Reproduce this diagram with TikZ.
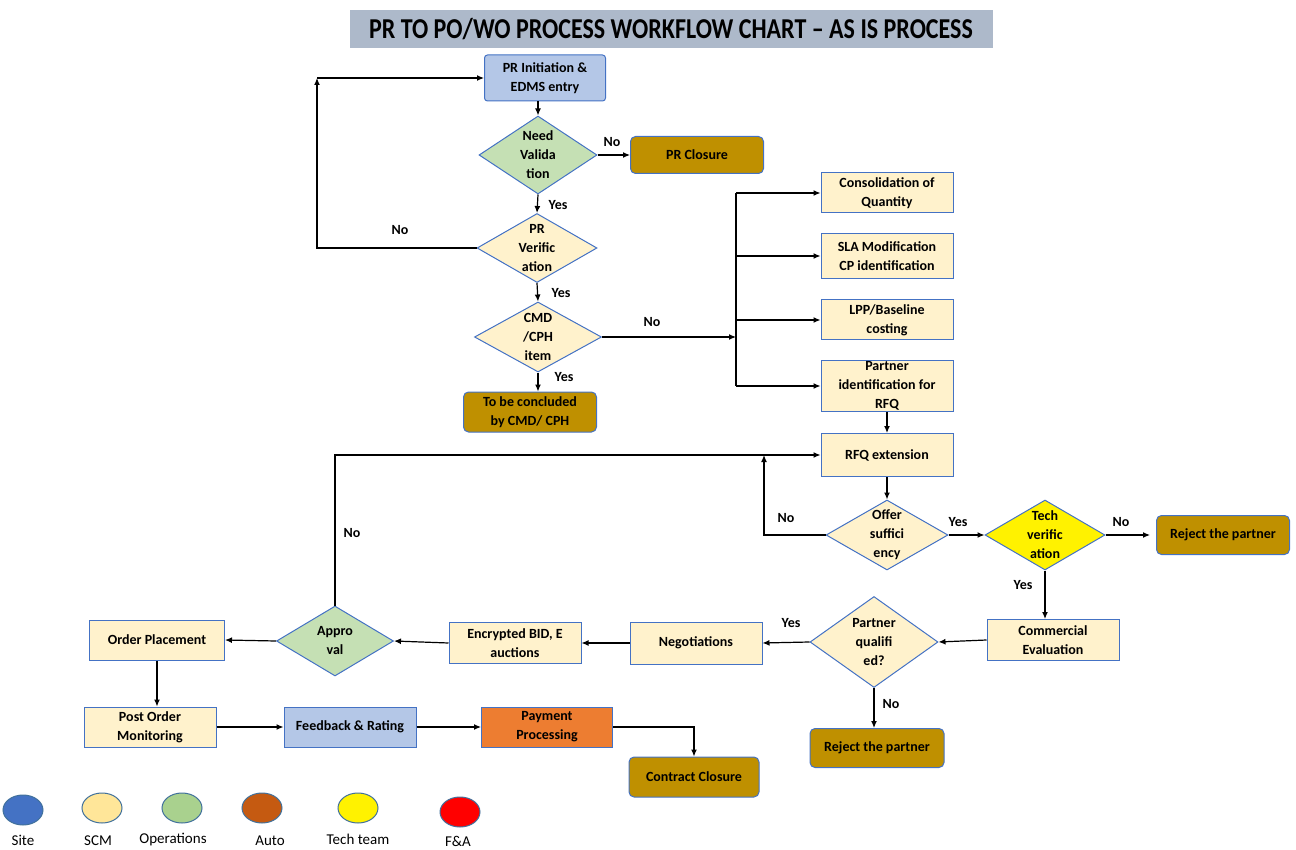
\documentclass[tikz,border=0pt]{standalone}
\usepackage{fontspec}
\setmainfont{Carlito}
\usetikzlibrary{shapes.geometric,arrows.meta,positioning}

\definecolor{titlefill}{HTML}{ADB9CA}
\definecolor{siteblue}{HTML}{4472C4}
\definecolor{sitefill}{HTML}{B4C7E7}
\definecolor{scmfill}{HTML}{FFF2CC}
\definecolor{scmdot}{HTML}{FFE699}
\definecolor{opsfill}{HTML}{C5E0B4}
\definecolor{opsdot}{HTML}{A9D18E}
\definecolor{autofill}{HTML}{BF9000}
\definecolor{autodot}{HTML}{C55A11}
\definecolor{payfill}{HTML}{ED7D31}
\definecolor{dotline}{HTML}{41719C}

\tikzset{
  box/.style={rectangle,draw=siteblue,line width=1pt,fill=scmfill,align=center,
    inner sep=1pt,font=\fontsize{14}{19}\selectfont\bfseries},
  sitebox/.style={box,fill=sitefill,rounded corners=3pt},
  autobox/.style={box,fill=autofill,rounded corners=5pt},
  paybox/.style={box,fill=payfill},
  dec/.style={diamond,shape aspect=1.5,draw=siteblue,line width=1pt,fill=scmfill,
    align=center,inner sep=-6pt,font=\fontsize{14}{19}\selectfont\bfseries},
  opsdec/.style={dec,fill=opsfill},
  techdec/.style={dec,fill=yellow},
  arr/.style={-{Latex[length=7pt,width=6pt]},line width=1.2pt},
  yn/.style={font=\fontsize{14}{16}\selectfont\bfseries},
  legdot/.style={ellipse,draw=dotline,line width=1pt,minimum width=40pt,minimum height=30pt},
  legtxt/.style={font=\fontsize{15}{17}\selectfont}
}

\begin{document}
\begin{tikzpicture}[x=1pt,y=-1pt]
\useasboundingbox (0,0) rectangle (1296,850);

% title
\node[fill=titlefill,minimum width=643pt,minimum height=38pt,
  font=\fontsize{24}{26}\selectfont\bfseries] (title) at (671,29)
  {\scalebox{1}[1.2]{PR TO PO/WO PROCESS WORKFLOW CHART -- AS IS PROCESS}};

% left column
\node[sitebox,minimum width=121pt,minimum height=46pt] (init) at (545,78) {PR Initiation \&\\EDMS entry};
\node[opsdec,minimum width=118pt,minimum height=78pt] (needval) at (538,155) {Need\\Valida\\tion};
\node[autobox,minimum width=133pt,minimum height=37pt] (prclose) at (697,155) {PR Closure};
\node[dec,minimum width=120pt,minimum height=69pt] (prver) at (537,248) {PR\\Verific\\ation};
\node[dec,minimum width=127pt,minimum height=70pt] (cmd) at (538,337) {CMD\\/CPH\\item};
\node[autobox,minimum width=133pt,minimum height=40pt] (concl) at (530,412) {To be concluded\\by CMD/ CPH};

% right column
\node[box,minimum width=132pt,minimum height=40pt] (cons) at (887,193) {Consolidation of\\Quantity};
\node[box,minimum width=132pt,minimum height=45pt] (sla) at (887,256) {SLA Modification\\CP identification};
\node[box,minimum width=132pt,minimum height=40pt] (lpp) at (887,320) {LPP/Baseline\\costing};
\node[box,minimum width=132pt,minimum height=50pt] (partid) at (887,386) {Partner\\identification for\\RFQ};
\node[box,minimum width=132pt,minimum height=43pt] (rfq) at (887,455) {RFQ extension};
\node[dec,minimum width=122pt,minimum height=70pt] (offer) at (887,535) {Offer\\suffici\\ency};
\node[techdec,minimum width=120pt,minimum height=70pt] (tech) at (1045,535) {Tech\\verific\\ation};
\node[autobox,minimum width=133pt,minimum height=39pt] (rej1) at (1223,535) {Reject the partner};
\node[box,minimum width=132pt,minimum height=41pt] (comm) at (1053,640) {Commercial\\Evaluation};
\node[dec,minimum width=128pt,minimum height=91pt] (pq) at (874,642) {Partner\\qualifi\\ed?};
\node[autobox,minimum width=134pt,minimum height=39pt] (rej2) at (877,748) {Reject the partner};

% bottom rows
\node[box,minimum width=132pt,minimum height=42pt] (nego) at (696,643) {Negotiations};
\node[box,minimum width=132pt,minimum height=41pt] (enc) at (515,643) {Encrypted BID, E\\auctions};
\node[opsdec,minimum width=117pt,minimum height=70pt] (appr) at (335,641) {Appro\\val};
\node[box,minimum width=135pt,minimum height=40pt] (order) at (157,640) {Order Placement};
\node[box,minimum width=132pt,minimum height=40pt] (post) at (150,727) {Post Order\\Monitoring};
\node[sitebox,rounded corners=0pt,minimum width=132pt,minimum height=40pt] (feed) at (350,727) {Feedback \& Rating};
\node[paybox,minimum width=131pt,minimum height=40pt] (pay) at (547,727) {Payment\\Processing};
\node[autobox,minimum width=130pt,minimum height=40pt] (contract) at (694,777) {Contract Closure};

\coordinate (loopA) at (317,248);
\coordinate (split) at (736,337);
\coordinate (loopB) at (764,535);

% connectors
\draw[arr] (needval.north |- init.south) -- (needval.north);
\draw[arr] (needval.east) -- (prclose.west);
\draw[arr] (needval.south) -- (prver.north);
\draw[arr] (prver.west) -- (loopA) -- (loopA |- init.west);
\draw[arr] (loopA |- init.west) -- (init.west);
\draw[arr] (prver.south) -- (cmd.north);
\draw[arr] (cmd.south) -- (cmd.south |- concl.north);
\draw[arr] (cmd.east) -- (split);
\draw[line width=1.2pt] (split |- cons) -- (split |- partid);
\foreach \n in {cons,sla,lpp,partid}
  \draw[arr] (split |- \n) -- (\n.west);
\draw[arr] (partid.south) -- (rfq.north);
\draw[arr] (rfq.south) -- (offer.north);
\draw[arr] (offer.west) -- (loopB) -- (loopB |- rfq.west);
\draw[arr] (appr.north) -- (appr.north |- rfq.west) -- (rfq.west);
\draw[arr] (offer.east) -- (tech.west);
\draw[arr] (tech.east) -- ([xshift=-6pt]rej1.west);
\draw[arr] (tech.south) -- (tech.south |- comm.north);
\draw[arr] (comm.west) -- (pq.east);
\draw[arr] (pq.south) -- (pq.south |- rej2.north);
\draw[arr] (pq.west) -- (nego.east);
\draw[arr] (nego.west) -- (enc.east);
\draw[arr] (enc.west) -- (appr.east);
\draw[arr] (appr.west) -- (order.east);
\draw[arr] (order.south) -- (order.south |- post.north);
\draw[arr] (post.east) -- (feed.west);
\draw[arr] (feed.east) -- (pay.west);
\draw[arr] (pay.east) -| (contract.north);

% yes / no
\node[yn] (n1) at (612,142) {No};
\node[yn] (y1) at (558,205) {Yes};
\node[yn] (n2) at (400,230) {No};
\node[yn] (y2) at (561,293) {Yes};
\node[yn] (n3) at (652,322) {No};
\node[yn] (y3) at (564,377) {Yes};
\node[yn] (n4) at (786,518) {No};
\node[yn] (y4) at (958,522) {Yes};
\node[yn] (n5) at (1121,522) {No};
\node[yn] (y5) at (1023,585) {Yes};
\node[yn] (y6) at (791,623) {Yes};
\node[yn] (n6) at (891,704) {No};
\node[yn] (n7) at (352,533) {No};

% legend
\node[legdot,fill=siteblue] (lsite) at (23,810) {};
\node[legdot,fill=scmdot] (lscm) at (102,808) {};
\node[legdot,fill=opsdot] (lops) at (182,808) {};
\node[legdot,fill=autodot] (lauto) at (262,808) {};
\node[legdot,fill=yellow] (ltech) at (358,808) {};
\node[legdot,fill=red] (lfna) at (460,812) {};
\node[legtxt] (tsite) at (23,840) {Site};
\node[legtxt] (tscm) at (98,841) {SCM};
\node[legtxt] (tops) at (173,840) {Operations};
\node[legtxt] (tauto) at (270,841) {Auto};
\node[legtxt] (ttech) at (358,839) {Tech team};
\node[legtxt] (tfna) at (458,841) {F\&A};
\end{tikzpicture}
\end{document}
